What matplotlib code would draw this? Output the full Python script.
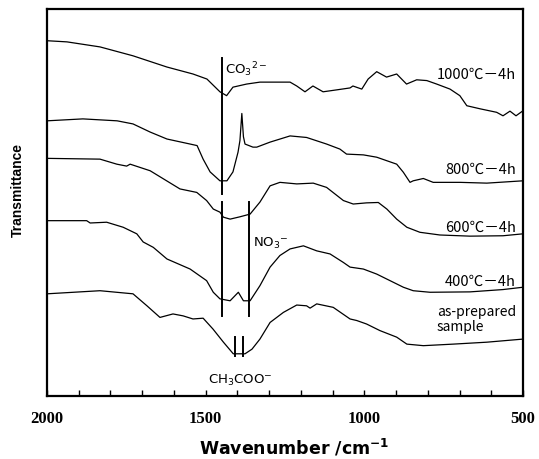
import matplotlib
matplotlib.use("Agg")
import matplotlib.pyplot as plt
import numpy as np

# FT-IR spectra, transmittance in arbitrary units (curves offset vertically)
wn_1000 = [2000, 1937, 1833, 1729, 1622, 1540, 1496, 1455, 1434, 1414, 1371, 1329, 1234, 1213,
           1187, 1162, 1130, 1087, 1045, 1036, 1008, 988, 961, 930, 898, 867, 835, 803, 772,
           730, 699, 677, 635, 583, 563, 541, 522, 500]
t_1000 = [91.8, 91.5, 90.2, 87.9, 85.0, 83.2, 81.9, 78.6, 77.6, 79.8, 80.6, 81.1, 81.1, 80.1,
          78.6, 80.1, 78.6, 79.1, 79.6, 80.1, 79.3, 81.9, 83.8, 82.4, 83.2, 80.6, 81.7, 81.5, 80.6,
          79.3, 77.6, 75.0, 74.2, 73.3, 72.4, 73.6, 72.4, 73.7]

wn_800 = [2000, 1887, 1779, 1729, 1675, 1622, 1549, 1527, 1508, 1486, 1455, 1433, 1414, 1398,
          1392, 1386, 1381, 1376, 1351, 1339, 1297, 1234, 1182, 1119, 1077, 1056, 1003, 961,
          898, 877, 856, 846, 814, 783, 698, 614, 500]
t_800 = [71.1, 71.6, 71.1, 70.3, 68.2, 66.4, 65.1, 64.7, 61.2, 57.9, 55.6, 55.6, 57.9, 63.0,
         66.0, 73.0, 67.0, 65.1, 64.3, 64.3, 65.6, 67.2, 66.8, 65.1, 63.8, 62.5, 62.3, 61.7,
         59.9, 57.8, 55.2, 55.6, 56.2, 55.2, 55.2, 55.0, 55.6]

wn_600 = [2000, 1833, 1780, 1749, 1738, 1675, 1623, 1581, 1528, 1497, 1476, 1455, 1444, 1423,
          1392, 1360, 1329, 1297, 1266, 1213, 1161, 1119, 1066, 1035, 993, 956, 929, 898, 866,
          825, 762, 667, 563, 500]
t_600 = [61.4, 61.2, 59.9, 59.4, 59.9, 58.2, 55.6, 53.5, 52.6, 50.5, 48.3, 47.5, 46.2, 45.7,
         46.3, 47.0, 50.1, 54.3, 55.2, 54.8, 55.0, 53.9, 50.5, 49.6, 49.9, 50.0, 48.3, 45.7, 43.6,
         42.3, 41.6, 41.3, 41.4, 41.9]

wn_400 = [2000, 1875, 1864, 1812, 1760, 1717, 1697, 1665, 1622, 1549, 1497, 1476, 1455, 1423,
          1397, 1381, 1360, 1329, 1297, 1266, 1234, 1192, 1150, 1108, 1066, 1045, 1003, 961,
          919, 877, 846, 793, 667, 563, 500]
t_400 = [45.3, 45.3, 44.7, 44.9, 43.6, 41.9, 39.8, 38.4, 35.4, 32.8, 29.8, 26.8, 25.1, 24.6,
         26.8, 24.6, 24.6, 28.5, 33.3, 36.3, 38.0, 38.8, 37.5, 36.7, 34.5, 33.3, 32.8, 31.5,
         29.8, 28.1, 27.2, 26.8, 26.9, 27.5, 28.1]

wn_prep = [2000, 1833, 1729, 1685, 1644, 1603, 1571, 1540, 1508, 1477, 1444, 1413, 1376, 1354,
           1329, 1297, 1255, 1213, 1182, 1171, 1150, 1098, 1045, 1024, 993, 951, 898, 866, 814,
           720, 614, 500]
t_prep = [26.4, 27.2, 26.4, 23.3, 20.3, 21.2, 20.7, 19.9, 20.1, 17.3, 13.9, 10.9, 10.9, 12.1,
          14.7, 19.0, 21.6, 23.5, 23.3, 22.7, 23.8, 22.9, 19.9, 19.5, 18.6, 16.9, 15.2, 13.4, 13.0,
          13.4, 13.9, 14.7]

curve_labels = ["1000℃－4h", "800℃－4h", "600℃－4h", "400℃－4h"]
label_t = [83.2, 58.7, 43.7, 29.8]

# band assignments: (wavenumber, T from, T to)
co3_band = [(1447, 87.3, 52.2), (1447, 50.1, 20.7)]
no3_band = [(1362, 50.1, 20.7)]
acetate_band = [(1408, 15.2, 10.3), (1381, 15.2, 10.3)]

fig = plt.figure(figsize=(5.39, 4.60), dpi=100)
ax = fig.add_axes([0.0872, 0.137, 0.8831, 0.8413])

for wn, t in [(wn_1000, t_1000), (wn_800, t_800), (wn_600, t_600),
              (wn_400, t_400), (wn_prep, t_prep)]:
    ax.plot(wn, t, color="black", lw=0.9)

for x, t0, t1 in co3_band + no3_band + acetate_band:
    ax.plot([x, x], [t0, t1], color="black", lw=1.4)

cjk = ["Noto Sans CJK JP", "DejaVu Sans"]
for lab, t in zip(curve_labels, label_t):
    ax.text(522, t, lab, ha="right", va="center", fontsize=10.5, family=cjk)
ax.text(772, 20.0, "as-prepared\nsample", ha="left", va="center", fontsize=10,
        family=cjk, linespacing=1.05)

ax.text(1440, 84.5, r"CO$_3$$^{2-}$", ha="left", va="center", fontsize=9.5)
ax.text(1351, 39.8, r"NO$_3$$^{-}$", ha="left", va="center", fontsize=9.5)
ax.text(1392, 4.4, r"CH$_3$COO$^{-}$", ha="center", va="center", fontsize=9.5)

ax.set_xlim(2000, 500)
ax.set_ylim(0, 100)
ax.set_yticks([])
ax.set_xticks([2000, 1500, 1000, 500])
ax.set_xticks(np.arange(500, 2001, 100), minor=True)
ax.tick_params(axis="x", which="both", direction="in", length=4, width=1.0, pad=10)
for lab in ax.get_xticklabels():
    lab.set_fontfamily("Liberation Serif")
    lab.set_fontweight("bold")
    lab.set_fontsize(12)
for sp in ax.spines.values():
    sp.set_linewidth(1.6)

ax.set_xlabel(r"Wavenumber /cm$^{\mathbf{-1}}$", fontsize=12.5, fontweight="bold")
ax.xaxis.label.set_va("baseline")
ax.xaxis.set_label_coords(0.52, -0.149)
ax.set_ylabel("Transmittance", fontsize=10, fontweight="bold", family="Liberation Sans")
ax.yaxis.set_label_coords(-0.047, 0.535)

fig.savefig("out.png", dpi=100)
